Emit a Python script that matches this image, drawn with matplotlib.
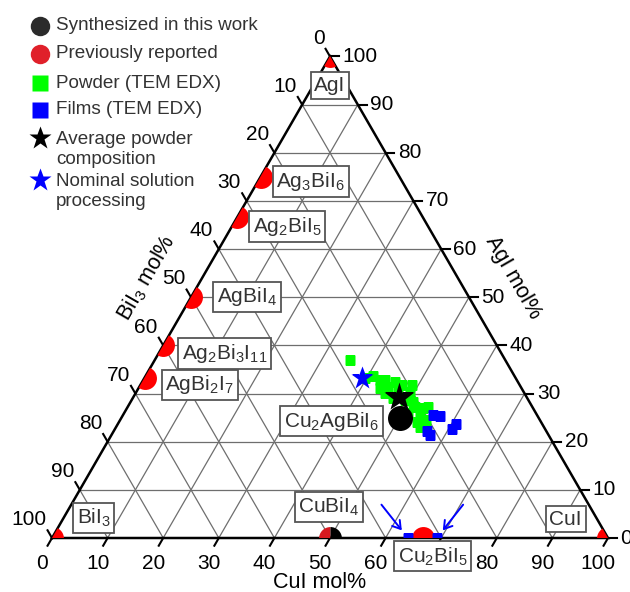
import numpy as np
import matplotlib
matplotlib.use("Agg")
import matplotlib.pyplot as plt
from matplotlib.patches import Polygon

plt.rcParams["font.family"] = ["Liberation Sans", "DejaVu Sans"]
plt.rcParams["mathtext.fontset"] = "custom"
plt.rcParams["mathtext.rm"] = "Liberation Sans"

# compositions in mol% (CuI, AgI); BiI3 is the rest
powder_cui = [35.1, 40.9, 43.5, 44.7, 45.5, 47.0, 48.8, 49.2, 44.8, 46.8, 50.8, 51.7,
              53.2, 54.0, 53.4, 53.6, 55.1, 54.7, 55.4, 51.0, 43.4, 47.0, 49.2, 39.7, 42.6]
powder_agi = [37.0, 33.6, 32.8, 31.4, 32.4, 31.8, 31.8, 30.3, 30.1, 29.1, 28.2, 27.2,
              27.0, 27.2, 25.5, 24.1, 24.5, 23.1, 23.5, 26.0, 31.2, 30.3, 28.7, 33.2, 32.8]
films_cui = [55.7, 57.1, 56.3, 57.3, 60.9, 60.6, 64.0, 69.2]
films_agi = [25.5, 25.3, 22.2, 21.4, 23.7, 22.6, 0.0, 0.0]

reported_names = ["AgI", "Ag3BiI6", "Ag2BiI5", "AgBiI4", "Ag2Bi3I11", "AgBi2I7",
                  "BiI3", "Cu2BiI5", "CuI"]
reported_cui = [0, 0, 0, 0, 0, 0, 0, 66.7, 100]
reported_agi = [100, 75, 66.7, 50, 40, 33.3, 0, 0, 0]

synth_names = ["Cu2AgBiI6"]
synth_cui = [50]
synth_agi = [25]

both_cui = [50]   # CuBiI4: reported and synthesized
both_agi = [0]

avg_powder = (47.8, 29.3)
nominal = (39.2, 33.2)

ticks = np.arange(0, 101, 10)


def tern(cui, agi):
    cui = np.asarray(cui, float)
    agi = np.asarray(agi, float)
    return (cui + agi / 2) / 100, agi / 100 * np.sqrt(3) / 2


h = np.sqrt(3) / 2
fig = plt.figure(figsize=(6.3, 5.92), dpi=100)
ax = fig.add_axes([0, 0, 1, 1])
ax.set_xlim(-52 / 556, 578 / 556)
ax.set_ylim(-54 / 556, 538 / 556)
ax.axis("off")

tri = Polygon([[0, 0], [1, 0], [0.5, h]], closed=True, fill=False, ec="none")
ax.add_patch(tri)

# grid
gc = "#6e6e6e"
for t in ticks[1:-1]:
    x0, y0 = tern(t, 0)
    x1, y1 = tern(t, 100 - t)
    ax.plot([x0, x1], [y0, y1], color=gc, lw=0.9, zorder=1)
    x0, y0 = tern(0, t)
    x1, y1 = tern(100 - t, t)
    ax.plot([x0, x1], [y0, y1], color=gc, lw=0.9, zorder=1)
    x0, y0 = tern(100 - t, 0)
    x1, y1 = tern(0, 100 - t)
    ax.plot([x0, x1], [y0, y1], color=gc, lw=0.9, zorder=1)

ax.plot([0, 1, 0.5, 0], [0, 0, h, 0], color="black", lw=1.8, zorder=5,
        solid_joinstyle="miter")

# ticks and tick labels
tl = 0.016
fs_tick = 15
for t in ticks:
    # CuI (bottom)
    x, y = tern(t, 0)
    ax.plot([x, x - tl * 0.5], [y, y - tl * h], color="black", lw=1.5, clip_on=False)
    ax.text(x - 0.018, y - 0.045, f"{t}", ha="center", va="center", fontsize=fs_tick)
    # AgI (right)
    x, y = tern(100 - t, t)
    ax.plot([x, x + tl], [y, y], color="black", lw=1.5, clip_on=False)
    ax.text(x + 0.022, y, f"{t}", ha="left", va="center", fontsize=fs_tick)
    # BiI3 (left)
    x, y = tern(0, 100 - t)
    ax.plot([x, x - tl * 0.5], [y, y + tl * h], color="black", lw=1.5, clip_on=False)
    ax.text(x - 0.010, y + 0.033, f"{t}", ha="right", va="center", fontsize=fs_tick)

ax.text(0.482, -0.080, "CuI mol%", ha="center", va="center", fontsize=15.5)
ax.text(0.170, 0.4685, r"BiI$_\mathregular{3}$ mol%", ha="center", va="center",
        fontsize=15.5, rotation=60, rotation_mode="anchor")
ax.text(0.830, 0.4685, "AgI mol%", ha="center", va="center",
        fontsize=15.5, rotation=-60, rotation_mode="anchor")

# data markers, clipped to the triangle
arts = []
px, py = tern(powder_cui, powder_agi)
arts += ax.plot(px, py, "s", color="#00ff00", ms=7, mec="none", zorder=6)
fx, fy = tern(films_cui, films_agi)
arts += ax.plot(fx, fy, "s", color="#0000ff", ms=7, mec="none", zorder=7)
rx, ry = tern(reported_cui, reported_agi)
arts += ax.plot(rx, ry, "o", color="#ff0000", ms=16.5, mec="none", zorder=6)
bx, by = tern(both_cui, both_agi)
arts += ax.plot(bx, by, "o", fillstyle="left", color="#d7191f", markerfacecoloralt="black",
                ms=16.5, mec="none", zorder=6)
sx, sy = tern(synth_cui, synth_agi)
arts += ax.plot(sx, sy, "o", color="black", ms=18, mec="none", zorder=8)
ax_, ay_ = tern(*avg_powder)
arts += ax.plot(ax_, ay_, "*", color="black", ms=22, mec="none", zorder=9)
nx, ny = tern(*nominal)
arts += ax.plot(nx, ny, "*", color="#0000ff", ms=17, mec="none", zorder=9)
for a in arts:
    a.set_clip_path(tri)

# compound labels
label_text = {
    "AgI": ("AgI", 0.500, 0.814),
    "Ag3BiI6": (r"Ag$_\mathregular{3}$BiI$_\mathregular{6}$", 0.465, 0.6415),
    "Ag2BiI5": (r"Ag$_\mathregular{2}$BiI$_\mathregular{5}$", 0.4223, 0.5606),
    "AgBiI4": (r"AgBiI$_\mathregular{4}$", 0.3507, 0.4335),
    "Ag2Bi3I11": (r"Ag$_\mathregular{2}$Bi$_\mathregular{3}$I$_\mathregular{11}$", 0.3106, 0.3322),
    "AgBi2I7": (r"AgBi$_\mathregular{2}$I$_\mathregular{7}$", 0.2656, 0.2755),
    "Cu2AgBiI6": (r"Cu$_\mathregular{2}$AgBiI$_\mathregular{6}$", 0.503, 0.2104),
    "BiI3": (r"BiI$_\mathregular{3}$", 0.075, 0.036),
    "CuBiI4": (r"CuBiI$_\mathregular{4}$", 0.498, 0.0563),
    "Cu2BiI5": (r"Cu$_\mathregular{2}$BiI$_\mathregular{5}$", 0.6847, -0.033),
    "CuI": ("CuI", 0.924, 0.0338),
}
for key, (txt, x, y) in label_text.items():
    ax.text(x, y, txt, ha="center", va="center", fontsize=15, color="#333333", zorder=10,
            bbox=dict(boxstyle="square,pad=0.18", fc="white", ec="#555555", lw=1.3))

# arrows to the film points on the CuI-BiI3 edge
for c, dx in zip(films_cui[-2:], [-1, 1]):
    x, y = tern(c, 0)
    ax.annotate("", xy=(x, y), xytext=(dx * 19, 24), textcoords="offset points",
                arrowprops=dict(arrowstyle="->,head_length=0.55,head_width=0.35",
                                color="#0000ff", lw=1.4, shrinkA=0, shrinkB=7),
                zorder=11)

# legend
entries = [
    (dict(marker="o", color="#2b2b2b", ms=14), "Synthesized in this work"),
    (dict(marker="o", color="#e0202a", ms=14), "Previously reported"),
    (dict(marker="s", color="#00ff00", ms=11), "Powder (TEM EDX)"),
    (dict(marker="s", color="#0000ff", ms=11), "Films (TEM EDX)"),
    (dict(marker="*", color="black", ms=17), "Average powder\ncomposition"),
    (dict(marker="*", color="#0000ff", ms=17), "Nominal solution\nprocessing"),
]
ypix = [26, 54, 83, 110, 138, 180]
for (kw, lab), yp in zip(entries, ypix):
    yy = (538 - yp) / 556
    ax.plot([(40 - 52) / 556], [yy], linestyle="none", mec="none", clip_on=False, **kw)
    if "\n" in lab:
        ax.text((56 - 52) / 556, yy + 7 / 556, lab, ha="left", va="top",
                fontsize=13.6, color="#333333", linespacing=1.2)
    else:
        ax.text((56 - 52) / 556, yy, lab, ha="left", va="center",
                fontsize=13.6, color="#333333")

fig.savefig("out.png", dpi=100)
